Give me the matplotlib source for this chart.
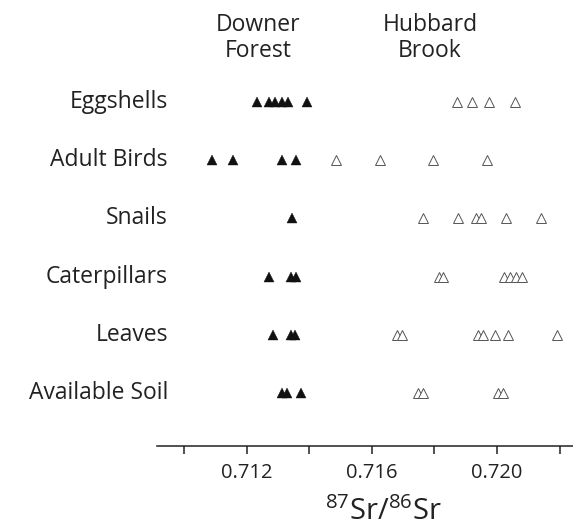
import matplotlib
matplotlib.use("Agg")
import matplotlib.pyplot as plt

plt.rcParams['font.family'] = ['Open Sans', 'DejaVu Sans']
plt.rcParams['mathtext.default'] = 'regular'

categories = ["Eggshells", "Adult Birds", "Snails", "Caterpillars", "Leaves", "Available Soil"]

# 87Sr/86Sr ratios, Downer Forest (filled) and Hubbard Brook (open)
downer = {
    "Eggshells": [0.71234, 0.71270, 0.71290, 0.71312, 0.71333, 0.71392],
    "Adult Birds": [0.71088, 0.71155, 0.71312, 0.71358],
    "Snails": [0.71346],
    "Caterpillars": [0.71271, 0.71340, 0.71357],
    "Leaves": [0.71285, 0.71340, 0.71354],
    "Available Soil": [0.71312, 0.71328, 0.71372],
}
hubbard = {
    "Eggshells": [0.71873, 0.71921, 0.71973, 0.72059],
    "Adult Birds": [0.71485, 0.71626, 0.71796, 0.71967],
    "Snails": [0.71764, 0.71876, 0.71932, 0.71949, 0.72028, 0.72142],
    "Caterpillars": [0.71814, 0.71828, 0.72022, 0.72041, 0.72060, 0.72079],
    "Leaves": [0.71679, 0.71695, 0.71940, 0.71956, 0.71993, 0.72036, 0.72192],
    "Available Soil": [0.71748, 0.71764, 0.72004, 0.72020],
}

xticks = [0.710, 0.712, 0.714, 0.716, 0.718, 0.720, 0.722]
xticklabels = ["", "0.712", "", "0.716", "", "0.720", ""]

W, H = 573, 529
fig = plt.figure(figsize=(W / 100, H / 100), dpi=100)
ax = fig.add_axes([157 / W, (H - 446) / H, 1 - 157 / W, (446 - 60) / H])

n = len(categories)
for i, cat in enumerate(categories):
    y = n - 1 - i
    xs = downer[cat]
    ax.plot(xs, [y] * len(xs), linestyle='none', marker='^', ms=7.4,
            mfc='#111111', mec='#111111', mew=0.3)
    xs = hubbard[cat]
    ax.plot(xs, [y] * len(xs), linestyle='none', marker='^', ms=7.6,
            mfc='white', mec='#555555', mew=0.7)

ax.set_xlim(0.70913, 0.72243)
ax.set_ylim(-0.91, 5.72)

for s in ['top', 'right', 'left']:
    ax.spines[s].set_visible(False)
ax.spines['bottom'].set_linewidth(1.1)
ax.spines['bottom'].set_color('#222222')

ax.set_xticks(xticks)
ax.set_xticklabels(xticklabels, fontsize=14.5, color='#222222')
ax.tick_params(axis='x', direction='out', length=6, width=1.1, pad=6, colors='#222222')
ax.set_yticks([])

# row labels, right-aligned to the left of the plot area
for i, cat in enumerate(categories):
    y = n - 1 - i
    ax.annotate(cat, xy=(0, y), xycoords=('axes fraction', 'data'),
                xytext=(168 - 157, 0), textcoords='offset pixels',
                ha='right', va='center', fontsize=16.5, color='#222222',
                annotation_clip=False)

# site headings
fig.text(258 / W, 1 - 38 / H, "Downer\nForest", ha='center', va='center',
         fontsize=16.5, color='#222222', linespacing=1.15)
fig.text(430 / W, 1 - 38 / H, "Hubbard\nBrook", ha='center', va='center',
         fontsize=16.5, color='#222222', linespacing=1.15)

fig.text(383 / W, 1 - 520 / H, r"$^{87}$Sr/$^{86}$Sr", ha='center', va='baseline',
         fontsize=21, color='#222222')

fig.savefig("out.png", dpi=100)
